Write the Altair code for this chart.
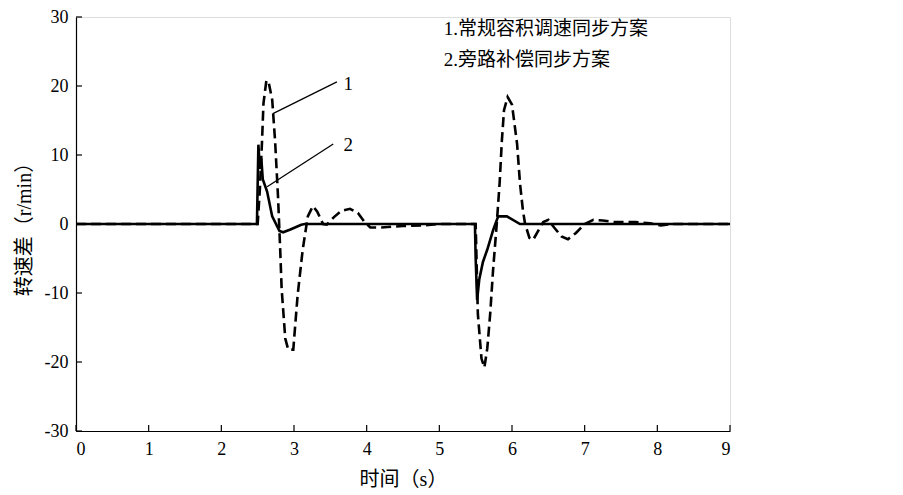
import altair as alt
import pandas as pd

# Scheme 1 (dashed): conventional volume speed-regulation synchronization
t1 = [0, 2.49, 2.50, 2.53, 2.56, 2.58, 2.62, 2.65, 2.70, 2.74, 2.78, 2.81, 2.83, 2.88, 2.92, 2.99,
      3.05, 3.12, 3.19, 3.26, 3.32, 3.40, 3.45, 3.55, 3.65, 3.77, 3.88, 3.97, 4.05, 4.20, 4.50,
      4.80, 5.00, 5.49, 5.50, 5.53, 5.58, 5.62, 5.66, 5.70, 5.74, 5.79, 5.83, 5.86, 5.89, 5.94,
      6.00, 6.07, 6.11, 6.15, 6.18, 6.24, 6.29, 6.36, 6.43, 6.50, 6.58, 6.68, 6.77, 6.88, 7.00,
      7.12, 7.25, 7.40, 7.70, 7.90, 8.05, 8.20, 9.00]
v1 = [0, 0, 0, 5, 12, 17.5, 20.8, 20.6, 18, 12, 4, -3.7, -9.4, -16.6, -18.2, -18.2,
      -10.3, -3.7, 1.1, 2.6, 1.8, 0, -0.1, 1.0, 1.9, 2.2, 1.6, 0.3, -0.5, -0.5, -0.3,
      -0.2, 0, 0, 0, -13, -19.5, -20.8, -18, -13, -6.6, 0, 6, 12, 16.5, 18.4,
      17.3, 11.6, 5.9, 2, 0, -2, -2.3, -1, 0.3, 0.6, -0.5, -1.8, -2.2, -1.3, 0,
      0.6, 0.5, 0.3, 0.3, 0.1, -0.2, 0, 0]

# Scheme 2 (solid): bypass compensation synchronization
t2 = [0, 2.49, 2.51, 2.53, 2.55, 2.57, 2.63, 2.70, 2.80, 2.85, 2.95, 3.10, 3.15,
      5.49, 5.50, 5.52, 5.55, 5.60, 5.66, 5.74, 5.81, 5.93, 6.11, 9.00]
v2 = [0, 0, 11.5, 8, 9.5, 6.5, 4.7, 1.1, -1.0, -1.2, -0.8, -0.1, 0,
      0, -5, -11, -8, -5.5, -3.7, -0.9, 1.1, 1.1, 0, 0]

x_ticks = [0, 1, 2, 3, 4, 5, 6, 7, 8, 9]
y_ticks = [-30, -20, -10, 0, 10, 20, 30]

legend_text = ["1.常规容积调速同步方案", "2.旁路补偿同步方案"]
legend_x = [5.06, 5.06]
legend_y = [28.3, 23.8]

ann_label = ["1", "2"]
ann_x0 = [2.71, 2.63]
ann_y0 = [16.0, 5.4]
ann_x1 = [3.59, 3.54]
ann_y1 = [20.6, 11.6]
ann_tx = [3.68, 3.68]
ann_ty = [20.3, 11.4]

FONT = "Liberation Serif, Noto Sans CJK SC"

xs = alt.Scale(domain=[0, 9], nice=False)
ys = alt.Scale(domain=[-30, 30], nice=False)

df1 = pd.DataFrame({"t": t1, "v": v1})
df2 = pd.DataFrame({"t": t2, "v": v2})

xaxis = alt.Axis(values=x_ticks, ticks=False, grid=False, labelPadding=9, labelFont=FONT,
                 labelFontSize=18, labelColor="black", labelExpr="'' + datum.value",
                 title="时间（s）", titleFont=FONT,
                 titleFontSize=20, titleFontWeight="normal", titleColor="black", titlePadding=11,
                 domainColor="black", domainWidth=1.2, labelAngle=0)
yaxis = alt.Axis(values=y_ticks, ticks=False, grid=False, labelPadding=8, labelFont=FONT,
                 labelFontSize=18, labelColor="black", labelExpr="'' + datum.value",
                 title="转速差（r/min）", titleFont=FONT,
                 titleFontSize=20, titleFontWeight="normal", titleColor="black", titlePadding=10,
                 domainColor="black", domainWidth=1.2)

dashed = alt.Chart(df1).mark_line(color="black", strokeWidth=2.6, strokeDash=[10, 5]).encode(
    x=alt.X("t:Q", scale=xs, axis=xaxis),
    y=alt.Y("v:Q", scale=ys, axis=yaxis),
    order="t:Q",
)
solid = alt.Chart(df2).mark_line(color="black", strokeWidth=2.6).encode(
    x=alt.X("t:Q", scale=xs),
    y=alt.Y("v:Q", scale=ys),
    order="t:Q",
)

ann = pd.DataFrame({"lab": ann_label, "x0": ann_x0, "y0": ann_y0, "x1": ann_x1, "y1": ann_y1,
                    "tx": ann_tx, "ty": ann_ty})
ann_lines = alt.Chart(ann).mark_rule(color="black", strokeWidth=1.3).encode(
    x=alt.X("x0:Q", scale=xs), y=alt.Y("y0:Q", scale=ys), x2="x1:Q", y2="y1:Q")
ann_text = alt.Chart(ann).mark_text(font=FONT, fontSize=19, align="left", baseline="middle",
                                    color="black").encode(
    x=alt.X("tx:Q", scale=xs), y=alt.Y("ty:Q", scale=ys), text="lab:N")

leg = pd.DataFrame({"txt": legend_text, "x": legend_x, "y": legend_y})
leg_text = alt.Chart(leg).mark_text(font=FONT, fontSize=19, align="left", baseline="middle",
                                    color="black").encode(
    x=alt.X("x:Q", scale=xs), y=alt.Y("y:Q", scale=ys), text="txt:N")

xt = pd.DataFrame({"x": x_ticks})
xtick_marks = alt.Chart(xt).mark_rule(color="black", strokeWidth=1.2).encode(
    x=alt.X("x:Q", scale=xs), y=alt.value(414), y2=alt.value(408))
yt = pd.DataFrame({"y": y_ticks})
ytick_marks = alt.Chart(yt).mark_rule(color="black", strokeWidth=1.2).encode(
    y=alt.Y("y:Q", scale=ys), x=alt.value(0), x2=alt.value(6))

chart = alt.layer(dashed, solid, ann_lines, ann_text, leg_text, xtick_marks, ytick_marks).properties(
    width=654, height=414,
    autosize=alt.AutoSizeParams(type="none"),
    padding={"left": 68, "top": 9, "right": 20, "bottom": 60},
).configure_view(stroke=None).configure(background="white")

chart.save("out.html", embed_options={"renderer": "svg", "actions": False})
